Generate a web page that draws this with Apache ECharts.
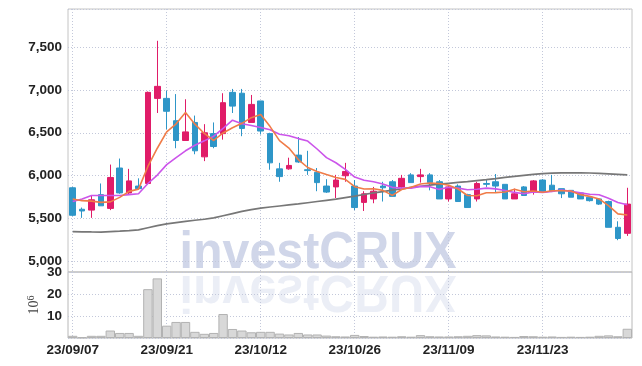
<!DOCTYPE html>
<html><head><meta charset="utf-8">
<script src="https://cdn.jsdelivr.net/npm/echarts@6/dist/echarts.min.js"></script>
<style>html,body{margin:0;padding:0;background:#fff}#c{width:642px;height:366px}</style>
</head><body><div id="c"></div>
<script>
const dates = ['23/09/07','23/09/08','23/09/11','23/09/12','23/09/13','23/09/14','23/09/15','23/09/18','23/09/19','23/09/20',
 '23/09/21','23/09/22','23/09/25','23/09/26','23/09/27','23/10/04','23/10/05','23/10/06','23/10/10','23/10/11',
 '23/10/12','23/10/13','23/10/16','23/10/17','23/10/18','23/10/19','23/10/20','23/10/23','23/10/24','23/10/25',
 '23/10/26','23/10/27','23/10/30','23/10/31','23/11/01','23/11/02','23/11/03','23/11/06','23/11/07','23/11/08',
 '23/11/09','23/11/10','23/11/13','23/11/14','23/11/15','23/11/16','23/11/17','23/11/20','23/11/21','23/11/22',
 '23/11/23','23/11/24','23/11/27','23/11/28','23/11/29','23/11/30','23/12/01','23/12/04','23/12/05','23/12/06'];
const opens = [5860,5610,5600,5780,5620,6090,5800,5880,5910,6900, 6900,6640,6410,6620,6220,6490,6490,6970,6960,6620,
 6870,6490,6080,6080,6240,6070,6040,5880,5870,6000, 5880,5690,5730,5880,5930,5870,6010,5990,6010,5930,
 5730,5880,5780,5730,5910,5930,5900,5730,5870,5810, 5950,5890,5850,5830,5800,5750,5730,5700,5400,5330];
const closes = [5540,5590,5720,5650,5980,5800,5940,5850,6970,7040, 6750,6410,6510,6290,6500,6340,6850,6810,6550,6830,
 6520,6150,5990,6120,6160,6060,5920,5810,5950,6050, 5630,5790,5820,5860,5760,5970,5920,6010,5920,5730,
 5870,5700,5630,5910,5900,5880,5730,5790,5770,5940, 5810,5820,5790,5750,5730,5710,5670,5400,5270,5670];
const lows = [5530,5510,5510,5650,5600,5790,5780,5840,5900,6730, 6540,6320,6410,6250,6170,6320,6420,6730,6460,6620,
 6480,6070,5930,6070,6150,6010,5820,5800,5740,5930, 5600,5590,5680,5700,5760,5860,5920,5920,5830,5730,
 5700,5700,5630,5700,5870,5810,5730,5730,5770,5780, 5800,5810,5740,5750,5730,5700,5660,5400,5250,5300];
const highs = [5870,5630,5770,5910,6130,6200,6080,5970,6980,7570, 6990,6950,6890,6700,6600,6620,6960,7010,7010,6940,
 6870,6500,6150,6210,6450,6290,6090,5960,6010,6150, 5950,5820,5870,5930,5950,6010,6030,6080,6030,5950,
 5880,5900,5790,5930,5950,6020,5900,5850,5880,5950, 5960,6010,5850,5830,5810,5750,5740,5710,5470,5860];
const ma5 = [5730,5710,5705,5690,5696,5748,5818,5844,6108,6320, 6510,6604,6736,6600,6492,6410,6498,6558,6610,6676,
 6712,6572,6408,6322,6188,6096,6050,6014,5980,5958, 5872,5846,5848,5830,5772,5840,5866,5904,5916,5910,
 5890,5846,5770,5768,5802,5804,5810,5842,5814,5822, 5808,5826,5826,5822,5780,5760,5730,5652,5556,5544];
const ma10 = [5700,5730,5770,5770,5770,5770,5780,5790,5910,6008, 6129,6211,6290,6354,6406,6460,6551,6647,6605,6584,
 6561,6535,6483,6466,6432,6404,6311,6211,6151,6073, 5984,5948,5931,5905,5865,5856,5856,5876,5873,5841,
 5865,5856,5837,5842,5856,5847,5828,5806,5791,5812, 5806,5818,5834,5818,5801,5784,5778,5739,5689,5662];
const maLong = [5350,5348,5346,5345,5350,5355,5362,5370,5395,5420, 5440,5455,5470,5482,5494,5510,5535,5560,5585,5605,
 5624,5636,5648,5660,5672,5686,5700,5714,5728,5745, 5762,5782,5800,5816,5832,5848,5864,5878,5890,5902,
 5912,5922,5932,5944,5955,5967,5980,5992,6004,6016, 6024,6030,6034,6035,6034,6032,6028,6022,6016,6010];
const volumes = [1.0,0.3,1.0,1.0,3.4,2.3,2.3,1.0,22.2,27.1, 5.6,7.3,7.3,2.8,1.9,2.3,10.9,4.1,3.4,2.6,
 2.8,2.8,2.0,1.6,2.3,1.6,1.6,1.1,0.8,0.7, 1.4,0.9,0.6,0.7,0.6,0.8,0.6,1.3,0.8,0.7,
 0.7,0.8,1.0,1.3,1.2,0.7,0.6,0.5,0.9,0.8, 0.6,0.7,0.5,0.6,0.5,0.6,1.0,1.2,0.8,4.2];
const priceTickStep = 500;
const volumeUnitLabel = ['10', '6'];
const watermark = 'investCRUX';

const candles = opens.map((o, i) => [o, closes[i], lows[i], highs[i]]);
const UP = '#e01c68', DOWN = '#2e96c8';
const GRIDC = '#c3c8da';
const chart = echarts.init(document.getElementById('c'), null, {renderer: 'canvas'});
const labelStyle = {color: '#222', fontFamily: '"Liberation Sans"', fontSize: 13.5, fontWeight: 'bold'};
chart.setOption({
  animation: false,
  backgroundColor: '#ffffff',
  grid: [
    {left: 68, right: 10, top: 9, height: 263, show: true, borderColor: '#c4c4c4', borderWidth: 1},
    {left: 68, right: 10, top: 272, height: 66, show: true, borderColor: '#b8b8b8', borderWidth: 1}
  ],
  xAxis: [
    {type: 'category', gridIndex: 0, data: dates, boundaryGap: true,
     axisLine: {show: false}, axisTick: {show: false}, axisLabel: {show: false},
     splitLine: {show: true, interval: 9, alignWithLabel: true, lineStyle: {color: GRIDC, type: [1, 2], width: 1}}},
    {type: 'category', gridIndex: 1, data: dates, boundaryGap: true,
     axisLine: {show: false}, axisTick: {show: false},
     axisLabel: Object.assign({show: true, interval: 9, margin: 5}, labelStyle),
     splitLine: {show: true, interval: 9, alignWithLabel: true, lineStyle: {color: GRIDC, type: [1, 2], width: 1}}}
  ],
  yAxis: [
    {type: 'value', gridIndex: 0, min: 4880, max: 7940, splitNumber: 5, scale: true,
     axisLine: {show: false}, axisTick: {show: false},
     axisLabel: Object.assign({margin: 6, formatter: v => (v % priceTickStep === 0 ? v.toLocaleString('en-US') : '')}, labelStyle),
     splitLine: {show: true, lineStyle: {color: GRIDC, type: [1, 2], width: 1}}},
    {type: 'value', gridIndex: 1, min: 0, max: 30, interval: 10,
     axisLine: {show: false}, axisTick: {show: false},
     axisLabel: Object.assign({margin: 6, formatter: v => (v === 0 ? '' : String(v))}, labelStyle),
     splitLine: {show: true, lineStyle: {color: GRIDC, type: [1, 2], width: 1}},
     name: '{b|' + volumeUnitLabel[0] + '}{s|' + volumeUnitLabel[1] + '}',
     nameLocation: 'middle', nameRotate: 90, nameGap: 26, nameMoveOverlap: false,
     nameTextStyle: {rich: {
       b: {fontFamily: 'Liberation Serif', fontSize: 14, color: '#444', lineHeight: 16},
       s: {fontFamily: 'Liberation Serif', fontSize: 10, color: '#444', lineHeight: 16, verticalAlign: 'top', padding: [0, 0, 6, 0]}
     }}}
  ],
  graphic: {elements: [
    {type: 'text', x: 318, y: 272, scaleX: 0.93, scaleY: -1, z: -10, silent: true,
     style: {text: watermark, x: 0, y: -18, fill: 'rgba(190,198,225,0.3)', fontSize: 52, fontWeight: 'bold',
             fontFamily: 'Liberation Sans', align: 'center', verticalAlign: 'middle', textAlign: 'center', textVerticalAlign: 'middle'}},
    {type: 'text', x: 318, y: 272, scaleX: 0.93, z: -10, silent: true,
     style: {text: watermark, x: 0, y: -18, fill: 'rgba(190,198,225,0.72)', fontSize: 52, fontWeight: 'bold',
             fontFamily: 'Liberation Sans', align: 'center', verticalAlign: 'middle', textAlign: 'center', textVerticalAlign: 'middle'}}
  ]},
  series: [
    {type: 'candlestick', xAxisIndex: 0, yAxisIndex: 0, data: candles, barWidth: 6,
     itemStyle: {color: UP, color0: DOWN, borderColor: UP, borderColor0: DOWN, borderWidth: 1}},
    {type: 'line', xAxisIndex: 0, yAxisIndex: 0, data: maLong, showSymbol: false, symbol: 'none',
     lineStyle: {color: '#777777', width: 1.7}},
    {type: 'line', xAxisIndex: 0, yAxisIndex: 0, data: ma10, showSymbol: false, symbol: 'none',
     lineStyle: {color: '#cc55ea', width: 1.6}},
    {type: 'line', xAxisIndex: 0, yAxisIndex: 0, data: ma5, showSymbol: false, symbol: 'none',
     lineStyle: {color: '#f07c48', width: 1.6}},
    {type: 'bar', xAxisIndex: 1, yAxisIndex: 1, data: volumes, barWidth: '100%',
     itemStyle: {color: '#d8d8d8', borderColor: '#b2b2b2', borderWidth: 1}}
  ]
});
</script>
</body></html>
